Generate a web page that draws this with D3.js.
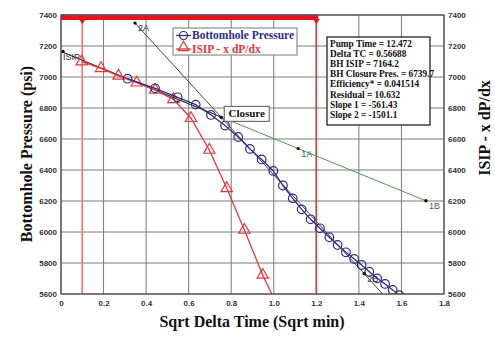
<!DOCTYPE html>
<html><head><meta charset="utf-8">
<script src="https://cdn.jsdelivr.net/npm/d3@7/dist/d3.min.js"></script>
<style>body{margin:0;background:#fff}svg{display:block}</style>
</head><body>
<svg id="chart" width="495" height="340"></svg>
<script>
// ---- data ----
const xTicks = [0, 0.2, 0.4, 0.6, 0.8, 1.0, 1.2, 1.4, 1.6, 1.8];
const xTickLabels = ["0", "0.2", "0.4", "0.6", "0.8", "1.0", "1.2", "1.4", "1.6", "1.8"];
const yTicks = [5600, 5800, 6000, 6200, 6400, 6600, 6800, 7000, 7200, 7400];

const bhTime = [0.313, 0.442, 0.548, 0.633, 0.705, 0.771, 0.833, 0.888, 0.943, 0.998, 1.043, 1.089, 1.131, 1.173, 1.217, 1.261, 1.300, 1.339, 1.378, 1.413, 1.449, 1.486, 1.523, 1.559, 1.590];
const bhPressure = [6989, 6927, 6869, 6822, 6755, 6687, 6613, 6536, 6468, 6394, 6300, 6217, 6146, 6082, 6024, 5966, 5916, 5869, 5826, 5787, 5744, 5701, 5665, 5626, 5592];

const isipTime = [0.097, 0.188, 0.270, 0.356, 0.442, 0.528, 0.611, 0.697, 0.779, 0.862, 0.948, 1.033];
const isipValue = [7099, 7056, 7007, 6963, 6916, 6856, 6734, 6529, 6282, 6013, 5723, 5476];

const line1 = [[0, 7164.2], [1.715, 6201.3]];           // ISIP -> 1B (slope 1)
const line1Dark = [[0, 7164.2], [0.7529, 6741.5]];      // ISIP -> closure
const line2 = [[0.348, 7347.9], [1.55, 5543]];          // 2A -> beyond 2B (slope 2)
const markerPts = [
  {label: "ISIP", x: 0, y: 7164.2},
  {label: "2A", x: 0.348, y: 7347.9},
  {label: "1A", x: 1.115, y: 6538},
  {label: "1B", x: 1.715, y: 6201.3},
  {label: "2B", x: 1.425, y: 5730.8}
];
const closure = {x: 0.7529, y: 6739.7};
const redLines = [0.1, 1.2];
const stats = ["Pump Time = 12.472", "Delta TC = 0.56688", "BH ISIP = 7164.2", "BH Closure Pres. = 6739.7",
  "Efficiency* = 0.041514", "Residual = 10.632", "Slope 1 = -561.43", "Slope 2 = -1501.1"];
const legendItems = ["Bottomhole Pressure", "ISIP - x dP/dx"];

// ---- layout ----
const L = 61, R = 444, T = 15, B = 294;
const svg = d3.select("#chart");
const x = d3.scaleLinear().domain([0, 1.8]).range([L, R]);
const y = d3.scaleLinear().domain([5600, 7400]).range([B, T]);
const navy = "#2e2e82", red = "#e8363c";
const serif = "Liberation Serif, Times New Roman, serif";
const axFont = "Liberation Sans, Arial, sans-serif";

// gridlines
svg.append("g").selectAll("line").data(xTicks).join("line")
  .attr("x1", d => x(d)).attr("x2", d => x(d)).attr("y1", T).attr("y2", B)
  .attr("stroke", "#7a7a7a").attr("stroke-width", 1);
svg.append("g").selectAll("line").data(yTicks).join("line")
  .attr("y1", d => y(d)).attr("y2", d => y(d)).attr("x1", L).attr("x2", R)
  .attr("stroke", "#7a7a7a").attr("stroke-width", 1);

// axes labels via d3 axes
const bottomAxis = svg.append("g").attr("transform", `translate(0,${B})`)
  .call(d3.axisBottom(x).tickValues(xTicks).tickFormat((d, i) => xTickLabels[i]).tickSize(0).tickPadding(6));
const leftAxis = svg.append("g").attr("transform", `translate(${L},0)`)
  .call(d3.axisLeft(y).tickValues(yTicks).tickFormat(d3.format("d")).tickSize(0).tickPadding(4));
const rightAxis = svg.append("g").attr("transform", `translate(${R},0)`)
  .call(d3.axisRight(y).tickValues(yTicks).tickFormat(d3.format("d")).tickSize(0).tickPadding(4));
[bottomAxis, leftAxis, rightAxis].forEach(g => {
  g.select(".domain").remove();
  g.selectAll("text").attr("font-family", axFont).attr("font-weight", "bold")
    .attr("font-size", 8).attr("fill", "#333");
});

// axis titles
svg.append("text").attr("x", 252).attr("y", 327).attr("text-anchor", "middle")
  .attr("font-family", serif).attr("font-weight", "bold").attr("font-size", 16).attr("fill", "#111")
  .text("Sqrt Delta Time (Sqrt min)");
svg.append("text").attr("transform", "translate(32,154) rotate(-90)").attr("text-anchor", "middle")
  .attr("font-family", serif).attr("font-weight", "bold").attr("font-size", 16).attr("fill", "#111")
  .text("Bottomhole Pressure (psi)");
svg.append("text").attr("transform", "translate(490,128) rotate(-90)").attr("text-anchor", "middle")
  .attr("font-family", serif).attr("font-weight", "bold").attr("font-size", 16).attr("fill", "#111")
  .text("ISIP - x dP/dx");

// clip
svg.append("clipPath").attr("id", "clip").append("rect")
  .attr("x", L).attr("y", T).attr("width", R - L).attr("height", B - T);
const plot = svg.append("g").attr("clip-path", "url(#clip)");

// red vertical lines
plot.append("line").attr("x1", x(redLines[0])).attr("x2", x(redLines[0])).attr("y1", T).attr("y2", B)
  .attr("stroke", "#f07a7a").attr("stroke-width", 1.8);
plot.append("line").attr("x1", x(redLines[1])).attr("x2", x(redLines[1])).attr("y1", T).attr("y2", B)
  .attr("stroke", "#c0504a").attr("stroke-width", 1.8);

const line = d3.line().x(d => x(d[0])).y(d => y(d[1]));
// fitted lines
plot.append("path").attr("d", line(line1)).attr("fill", "none").attr("stroke", "#4f9a4f").attr("stroke-width", 1);
plot.append("path").attr("d", line(line2)).attr("fill", "none").attr("stroke", "#444").attr("stroke-width", 1);
plot.append("path").attr("d", line(line1Dark)).attr("fill", "none").attr("stroke", "#333").attr("stroke-width", 1);

// ISIP - x dP/dx series
const isipData = isipTime.map((t, i) => [t, isipValue[i]]);
plot.append("path").attr("d", line(isipData)).attr("fill", "none").attr("stroke", red).attr("stroke-width", 1.3);
const tri = d3.symbol().type(d3.symbolTriangle).size(55);
plot.append("g").selectAll("path").data(isipData).join("path")
  .attr("transform", d => `translate(${x(d[0])},${y(d[1])})`).attr("d", tri())
  .attr("fill", "none").attr("stroke", red).attr("stroke-width", 1.2);

// Bottomhole pressure series
const bhData = bhTime.map((t, i) => [t, bhPressure[i]]);
plot.append("path").attr("d", line(bhData)).attr("fill", "none").attr("stroke", navy).attr("stroke-width", 1.3);
plot.append("g").selectAll("circle").data(bhData).join("circle")
  .attr("cx", d => x(d[0])).attr("cy", d => y(d[1])).attr("r", 4.3)
  .attr("fill", "none").attr("stroke", navy).attr("stroke-width", 1.2);

// annotation points
const ann = svg.append("g");
ann.selectAll("circle").data(markerPts).join("circle")
  .attr("cx", d => x(d.x) + (d.label === "ISIP" ? 2 : 0)).attr("cy", d => y(d.y)).attr("r", 1.7).attr("fill", "#111");
ann.selectAll("text").data(markerPts).join("text")
  .attr("x", d => x(d.x) + (d.label === "ISIP" ? 2 : 3)).attr("y", d => y(d.y) + 8)
  .attr("font-family", axFont).attr("font-size", 9)
  .attr("fill", d => (d.label === "1A" || d.label === "1B") ? "#3a6a3a" : "#333")
  .text(d => d.label);

// closure
svg.append("circle").attr("cx", x(closure.x)).attr("cy", y(closure.y)).attr("r", 1.8).attr("fill", "#111");
svg.append("rect").attr("x", x(closure.x) + 3).attr("y", y(closure.y) - 11).attr("width", 45).attr("height", 15)
  .attr("fill", "#fff").attr("stroke", "#555").attr("stroke-width", 1);
svg.append("text").attr("x", x(closure.x) + 25.5).attr("y", y(closure.y))
  .attr("text-anchor", "middle").attr("font-family", serif)
  .attr("font-weight", "bold").attr("font-size", 11).attr("fill", "#111").text("Closure");

// top red bar
svg.append("rect").attr("x", x(0)).attr("y", T - 0.5).attr("width", x(1.2) - x(0) + 2).attr("height", 5.5).attr("fill", "#e8141c");
svg.append("g").selectAll("path").data(redLines).join("path")
  .attr("d", d => `M${x(d) - 3.5},${T + 4} L${x(d) + 3.5},${T + 4} L${x(d)},${T + 9} Z`)
  .attr("fill", "#e8141c");

// plot border
svg.append("rect").attr("x", L).attr("y", T).attr("width", R - L).attr("height", B - T)
  .attr("fill", "none").attr("stroke", "#555").attr("stroke-width", 1.3);

// legend
const lg = svg.append("g").attr("transform", "translate(173,28)");
lg.append("rect").attr("width", 124).attr("height", 27).attr("fill", "#fff").attr("stroke", "#777").attr("stroke-width", 1);
lg.append("line").attr("x1", 3).attr("x2", 18).attr("y1", 7.5).attr("y2", 7.5).attr("stroke", navy).attr("stroke-width", 1.3);
lg.append("circle").attr("cx", 10.5).attr("cy", 7.5).attr("r", 4).attr("fill", "none").attr("stroke", navy).attr("stroke-width", 1.2);
lg.append("line").attr("x1", 3).attr("x2", 18).attr("y1", 21).attr("y2", 21).attr("stroke", red).attr("stroke-width", 1.3);
lg.append("path").attr("transform", "translate(10.5,19.5)").attr("d", d3.symbol().type(d3.symbolTriangle).size(50)())
  .attr("fill", "none").attr("stroke", red).attr("stroke-width", 1.2);
lg.selectAll("text").data(legendItems).join("text")
  .attr("x", 19).attr("y", (d, i) => 11 + i * 13.5)
  .attr("font-family", serif).attr("font-weight", "bold").attr("font-size", 11.5)
  .attr("fill", (d, i) => i === 0 ? navy : red).text(d => d);

// stats box
const sb = svg.append("g").attr("transform", "translate(327,37)");
sb.append("rect").attr("width", 103).attr("height", 88).attr("fill", "#fff").attr("stroke", "#222").attr("stroke-width", 1.3);
sb.selectAll("text").data(stats).join("text")
  .attr("x", 3).attr("y", (d, i) => 10 + i * 10.1)
  .attr("font-family", serif).attr("font-weight", "bold").attr("font-size", 9.3).attr("fill", "#111")
  .text(d => d);
</script></body></html>
